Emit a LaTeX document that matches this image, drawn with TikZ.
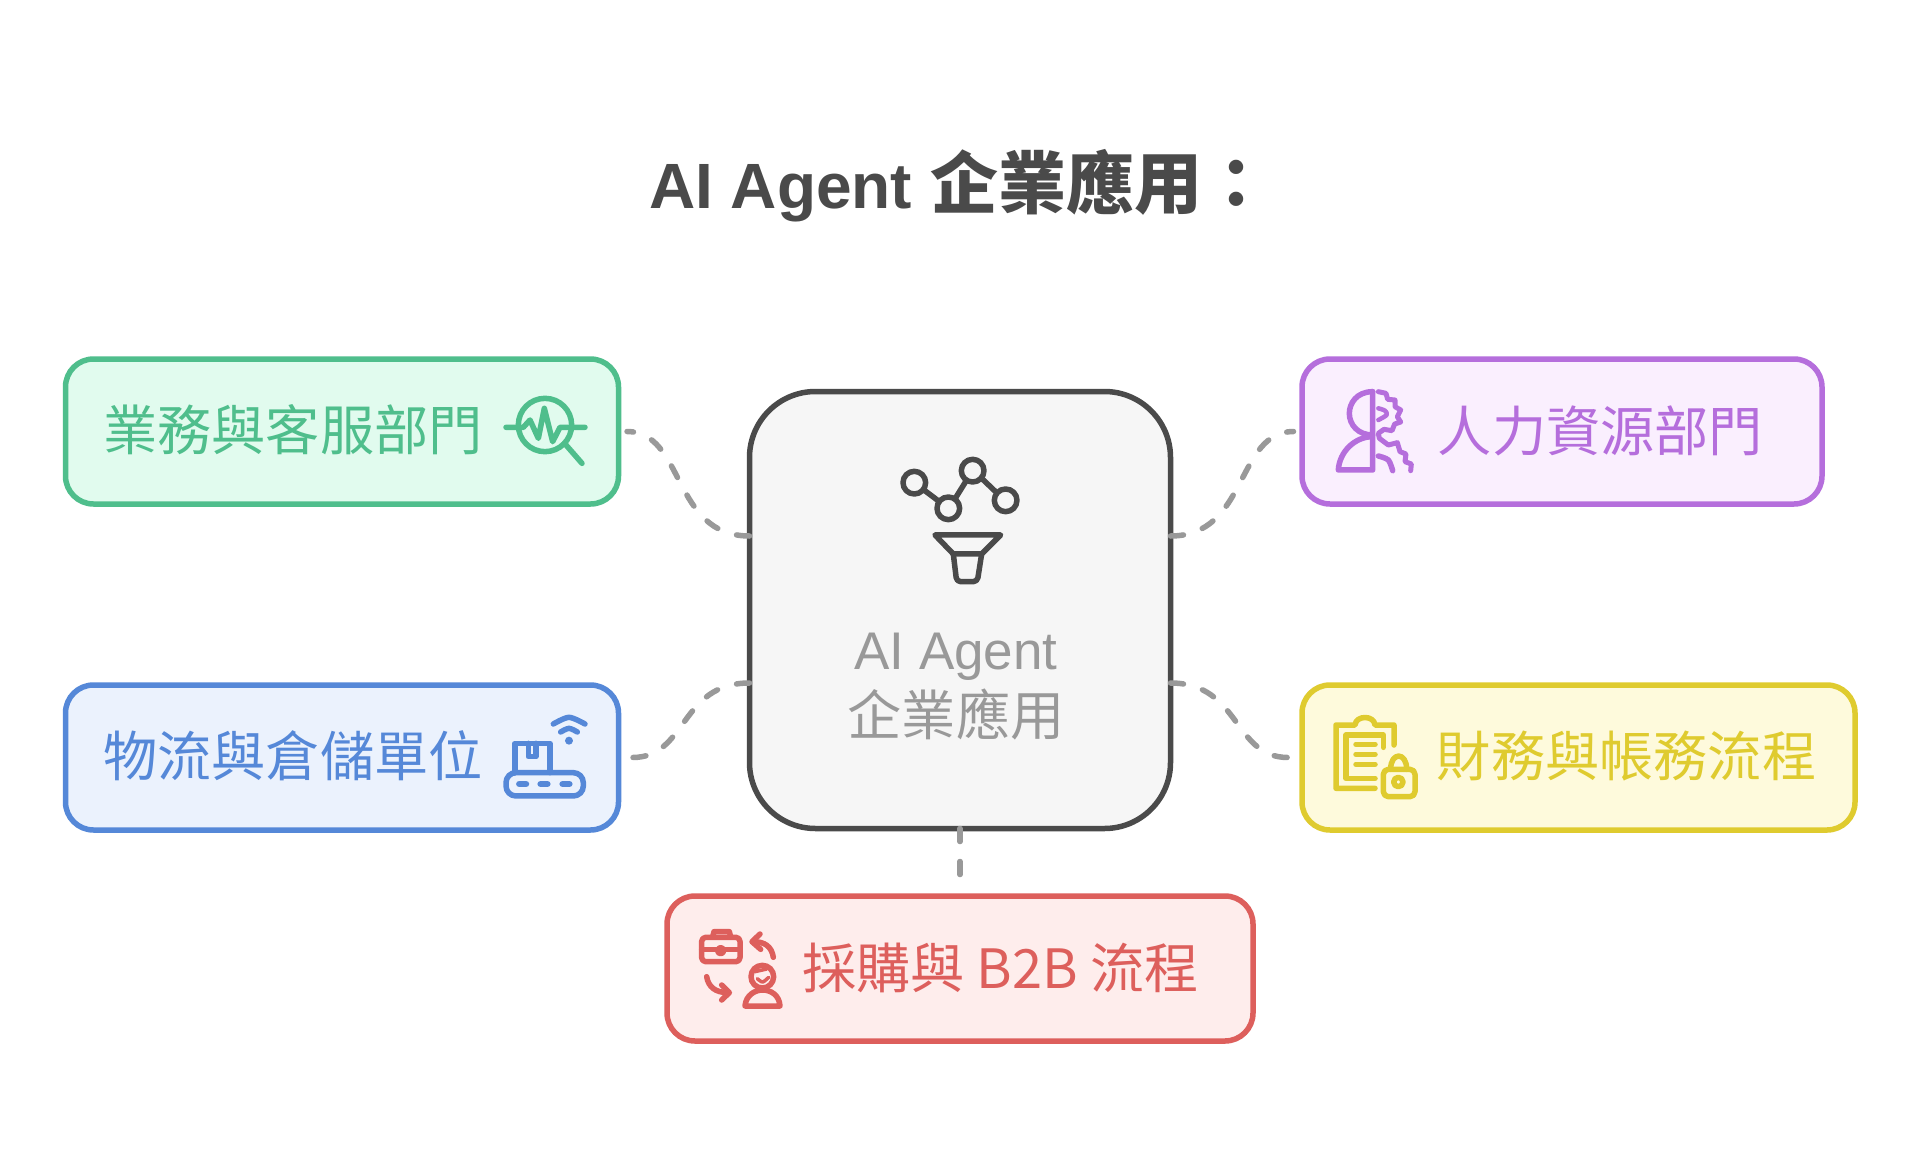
\documentclass[tikz,border=0pt]{standalone}
\usepackage{fontspec}
\setmainfont{Noto Sans CJK TC}
\newfontfamily\latinf{Liberation Sans}
\definecolor{gl}{HTML}{4FBE8C}\definecolor{gf}{HTML}{E1FBEE}
\definecolor{bl}{HTML}{5588D8}\definecolor{bf}{HTML}{EBF2FD}
\definecolor{pl}{HTML}{B56EDC}\definecolor{pf}{HTML}{FAEFFE}
\definecolor{yl}{HTML}{DFCB2F}\definecolor{yf}{HTML}{FEFADC}
\definecolor{rl}{HTML}{DD5F5C}\definecolor{rf}{HTML}{FEEDEC}
\definecolor{dk}{HTML}{4A4A4A}\definecolor{cf}{HTML}{F6F6F6}
\definecolor{gy}{HTML}{999999}
\tikzset{
  card/.style={draw=#1,line width=5.5pt,rounded corners=28pt,inner sep=0pt,outer sep=0pt,anchor=north west},
  lab/.style={text=#1,font=\fontsize{54.2}{60}\selectfont,inner sep=0pt,anchor=center},
  conn/.style={draw=gy,line width=5.5pt,line cap=round,dash pattern=on 13pt off 20pt},
  ico/.style={draw=#1,line width=5.5pt,line cap=round,line join=round},
  zoomed/.style={shift={#1},x=0.3333pt,y=-0.3333pt}
}
\begin{document}
\begin{tikzpicture}[x=1pt,y=-1pt]
\useasboundingbox[fill=white] (0,0) rectangle (1920,1172);
\node[inner sep=0pt,text=dk,font=\fontsize{68}{72}\selectfont\bfseries] (title) at (960,186) {{\latinf\fontsize{64}{72}\selectfont AI Agent\hspace{3pt}} 企業應用：};

\node[card=gl,fill=gf,minimum width=553pt,minimum height=145pt] (g) at (65.5,359) {};
\node[card=bl,fill=bf,minimum width=553pt,minimum height=145pt] (b) at (65.5,685) {};
\node[card=pl,fill=pf,minimum width=520pt,minimum height=145pt] (p) at (1302,359) {};
\node[card=yl,fill=yf,minimum width=553pt,minimum height=145pt] (y) at (1302,685) {};
\node[card=rl,fill=rf,minimum width=586pt,minimum height=145pt] (r) at (667,896) {};
\node[card=dk,fill=cf,rounded corners=66pt,minimum width=421pt,minimum height=437pt] (c) at (749.5,391.5) {};

\node[lab=gl] (gt) at (293,430) {業務與客服部門};
\node[lab=bl] (bt) at (293,756) {物流與倉儲單位};
\node[lab=pl] (pt) at (1600.5,431) {人力資源部門};
\node[lab=yl] (yt) at (1626.5,756) {財務與帳務流程};
\node[lab=rl] (rt) at (1000.5,968) {採購與 B2B 流程};
\node[inner sep=0pt,text=gy,font=\latinf\fontsize{53}{56}\selectfont] (ct1) at (956,657) {AI Agent};
\node[lab=gy] (ct2) at (956,714) {企業應用};

\draw[conn] ([yshift=74pt]c.west) .. controls +(-78,0) and +(58,0) .. ([xshift=8.5pt,yshift=0pt]g.east);
\draw[conn] ([yshift=-73pt]c.west) .. controls +(-70,0) and +(55,0) .. ([xshift=14pt,yshift=0pt]b.east);
\draw[conn] ([yshift=74pt]c.east) .. controls +(78,0) and +(-58,0) .. ([xshift=-8.5pt]p.west);
\draw[conn] ([yshift=-73pt]c.east) .. controls +(70,0) and +(-55,0) .. ([xshift=-14pt,yshift=0pt]y.west);
\draw[conn] (c.south) -- ([yshift=18pt]r.north);

% centre icon
\begin{scope}[zoomed={(740,380)}]
 \draw[ico=dk] (523,308) circle (34) (625,385) circle (34) (698,272) circle (34) (797,361) circle (34);
 \draw[ico=dk] (552,330)--(597,364) (646,355)--(677,305) (727,297)--(770,338);
 \draw[ico=dk] (585,465)--(782,465)--(725,522)--(640,522)--cycle;
 \draw[ico=dk,rounded corners=4pt] (640,522)--(650,605)--(712,605)--(725,522);
\end{scope}
% green icon
\begin{scope}[zoomed={(490,390)}]
 \draw[ico=gl] (165,105) circle (80);
 \draw[ico=gl] (48,112)--(100,112)--(120,90)--(145,145)--(163,55)--(188,155)--(210,112)--(285,112);
 \draw[ico=gl] (228,165)--(276,220);
\end{scope}
% blue icon
\begin{scope}[zoomed={(490,710)}]
 \draw[ico=bl,rounded corners=10pt] (48,188) rectangle (280,258);
 \draw[ico=bl,line width=6.5pt] (88,222)--(108,222) (152,222)--(172,222) (218,222)--(238,222);
 \draw[ico=bl] (75,188)--(75,100)--(180,100)--(180,188);
 \draw[ico=bl] (115,100)--(115,140)--(138,140)--(138,100);
 \fill[bl] (237,92) circle (12);
 \draw[ico=bl] plot[smooth] coordinates {(212,66) (237,55) (262,66)};
 \draw[ico=bl] plot[smooth] coordinates {(190,42) (237,22) (285,42)};
\end{scope}
% purple icon
\begin{scope}[zoomed={(1320,380)}]
 \draw[ico=pl] (158,35) .. controls (110,35) and (88,70) .. (88,100) .. controls (88,135) and (115,165) .. (158,165);
 \draw[ico=pl] (158,35)--(158,270)--(55,270) .. controls (58,215) and (105,170) .. (158,170);
 \draw[ico=pl,line width=5pt] (175,35)--(198,40)--(203,58)--(225,60)--(225,80)--(242,90)--(232,110)--(242,126)--(224,132)--(216,152)--(192,148)--(175,160)--(178,175)--(205,195)--(232,188)--(240,215)--(258,222)--(255,245)--(274,252)--(272,272);
 \draw[ico=pl,line width=4.5pt] plot[smooth] coordinates {(175,85) (195,92) (200,105) (175,120)};
 \draw[ico=pl] plot[smooth] coordinates {(175,228) (205,240) (218,272)};
\end{scope}
% yellow icon
\begin{scope}[zoomed={(1320,710)}]
 \draw[ico=yl] (165,235)--(48,235)--(48,45)--(105,45) .. controls (108,15) and (162,15) .. (165,45)--(222,45)--(222,105);
 \draw[ico=yl] (165,205)--(78,205)--(78,75)--(190,75)--(190,112);
 \draw[ico=yl] (108,103)--(165,103) (108,133)--(165,133) (108,163)--(165,163);
 \draw[ico=yl,rounded corners=5pt] (190,178) rectangle (285,260);
 \draw[ico=yl] (212,178) .. controls (212,125) and (260,125) .. (260,178);
 \draw[ico=yl] (235,216) circle (14);
\end{scope}
% red icon
\begin{scope}[zoomed={(690,920)}]
 \draw[ico=rl,rounded corners=4pt] (35,52) rectangle (150,125);
 \draw[ico=rl] (68,50)--(72,35)--(118,35)--(122,50);
 \draw[ico=rl] (35,88)--(78,88) (107,88)--(150,88);
 \draw[ico=rl] (92,92) circle (9);
 \draw[ico=rl] (250,112) .. controls (245,80) and (225,65) .. (190,65);
 \draw[ico=rl] (210,42)--(186,65)--(212,88);
 \draw[ico=rl] (50,170) .. controls (55,200) and (75,218) .. (115,218);
 \draw[ico=rl] (95,195)--(118,218)--(95,240);
 \draw[ico=rl] (217,170) circle (34);
 \draw[ico=rl,line width=3.5pt] (195,155)--(230,147);
 \draw[ico=rl,line width=3.5pt] plot[smooth] coordinates {(202,176) (218,186) (236,172)};
 \draw[ico=rl] (165,258) .. controls (168,225) and (195,210) .. (218,210) .. controls (242,210) and (268,225) .. (270,258) -- cycle;
\end{scope}
\end{tikzpicture}
\end{document}
